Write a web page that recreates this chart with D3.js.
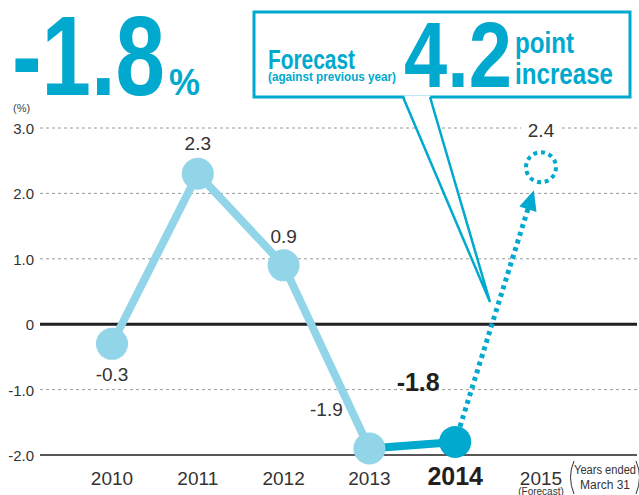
<!DOCTYPE html>
<html>
<head>
<meta charset="utf-8">
<script src="https://cdn.jsdelivr.net/npm/d3@7"></script>
<style>
  body { margin: 0; background: #fff; }
  svg text { font-family: "Liberation Sans", Arial, sans-serif; }
</style>
</head>
<body>
<svg id="chart"></svg>
<script>
// --- data ---
const years = ["2010", "2011", "2012", "2013", "2014", "2015"];
const actual = [-0.3, 2.3, 0.9, -1.9, -1.8];
const forecast = 2.4;
const yTicks = [3.0, 2.0, 1.0, 0, -1.0, -2.0];
const tickLabels = ["3.0", "2.0", "1.0", "0", "-1.0", "-2.0"];

const width = 639, height = 495;
const light = "#93d5e8", dark = "#00a9cd", ink = "#231f20";

const svg = d3.select("#chart").attr("width", width).attr("height", height);

const x = d3.scalePoint().domain(years).range([112, 541]);
const y = d3.scaleLinear().domain([-2, 3]).range([455, 128]);

// grid
const grid = svg.append("g");
yTicks.forEach((t, i) => {
  let line = grid.append("line")
    .attr("x1", 40).attr("x2", 637)
    .attr("y1", y(t)).attr("y2", y(t));
  if (t === 0) line.attr("stroke", ink).attr("stroke-width", 3);
  else if (t === -2) line.attr("stroke", ink).attr("stroke-width", 1.5);
  else line.attr("stroke", "#9a9a9a").attr("stroke-width", 1).attr("stroke-dasharray", "3,3");
  grid.append("text")
    .attr("x", 34).attr("y", y(t) + 6)
    .attr("text-anchor", "end")
    .attr("font-size", 15).attr("fill", "#333")
    .text(tickLabels[i]);
});
svg.append("text").attr("x", 13).attr("y", 112)
  .attr("font-size", 11).attr("fill", "#444").text("(%)");

// x labels
years.forEach((yr) => {
  let bold = yr === "2014";
  svg.append("text")
    .attr("x", x(yr)).attr("y", 485)
    .attr("text-anchor", "middle")
    .attr("font-size", bold ? 25 : 19)
    .attr("font-weight", bold ? "bold" : "normal")
    .attr("fill", bold ? ink : "#333")
    .text(yr);
});
svg.append("text").attr("x", x("2015")).attr("y", 495)
  .attr("text-anchor", "middle").attr("font-size", 10).attr("fill", "#333")
  .text("(Forecast)");
// (Years ended March 31)
const ye = svg.append("g").attr("fill", "#333").attr("font-size", 12);
ye.append("text").attr("x", 605).attr("y", 474).attr("text-anchor", "middle")
  .attr("textLength", 62).attr("lengthAdjust", "spacingAndGlyphs").text("Years ended");
ye.append("text").attr("x", 605).attr("y", 489).attr("text-anchor", "middle").text("March 31");
svg.append("path").attr("d", "M574,461 Q567,477 574,494").attr("fill", "none").attr("stroke", "#333");
svg.append("path").attr("d", "M636,461 Q643,477 636,494").attr("fill", "none").attr("stroke", "#333");

// lines
const pts = actual.map((v, i) => [x(years[i]), y(v)]);
const lineGen = d3.line();
svg.append("path")
  .attr("d", lineGen(pts.slice(0, 4)))
  .attr("fill", "none").attr("stroke", light).attr("stroke-width", 8)
  .attr("stroke-linejoin", "round");
svg.append("path")
  .attr("d", lineGen(pts.slice(3, 5)))
  .attr("fill", "none").attr("stroke", dark).attr("stroke-width", 8);

// forecast arrow
const p0 = pts[4], p1 = [x("2015"), y(forecast)];
const dx = p1[0] - p0[0], dy = p1[1] - p0[1], len = Math.hypot(dx, dy);
const ux = dx / len, uy = dy / len;
const tip = [p1[0] - ux * 24, p1[1] - uy * 24];
const base = [tip[0] - ux * 20, tip[1] - uy * 20];
svg.append("line")
  .attr("x1", p0[0] + ux * 16).attr("y1", p0[1] + uy * 16)
  .attr("x2", base[0] + ux * 2).attr("y2", base[1] + uy * 2)
  .attr("stroke", dark).attr("stroke-width", 5).attr("stroke-dasharray", "4,4");
svg.append("path")
  .attr("d", `M${tip[0]},${tip[1]} L${base[0] - uy * 9},${base[1] + ux * 9} L${base[0] + uy * 9},${base[1] - ux * 9}Z`)
  .attr("fill", dark);
svg.append("circle")
  .attr("cx", p1[0]).attr("cy", p1[1]).attr("r", 15)
  .attr("fill", "#fff").attr("stroke", dark).attr("stroke-width", 4)
  .attr("stroke-dasharray", "4,3.8");

// points
svg.selectAll("circle.pt").data(actual).enter().append("circle")
  .attr("class", "pt")
  .attr("cx", (d, i) => x(years[i]))
  .attr("cy", (d) => y(d))
  .attr("r", 16)
  .attr("fill", (d, i) => i === 4 ? dark : light);

// value labels
const labelPos = [[0, 37], [0, -24], [0, -22], [-43, -32], [-37, -51]];
actual.forEach((v, i) => {
  let bold = i === 4;
  svg.append("text")
    .attr("x", x(years[i]) + labelPos[i][0])
    .attr("y", y(v) + labelPos[i][1])
    .attr("text-anchor", "middle")
    .attr("font-size", bold ? 25 : 19)
    .attr("font-weight", bold ? "bold" : "normal")
    .attr("fill", bold ? ink : "#333")
    .text(v.toFixed(1));
});
svg.append("rect").attr("x", p1[0] - 20).attr("y", y(3) - 6).attr("width", 40).attr("height", 12).attr("fill", "#fff");
svg.append("text").attr("x", p1[0]).attr("y", y(forecast) - 30)
  .attr("text-anchor", "middle").attr("font-size", 19).attr("fill", "#333")
  .text(forecast.toFixed(1));

// headline
svg.append("text").attr("x", 12).attr("y", 95)
  .attr("font-family", "Roboto, sans-serif").attr("font-weight", "bold")
  .attr("font-size", 114).attr("fill", dark)
  .attr("textLength", 153).attr("lengthAdjust", "spacingAndGlyphs")
  .text("-1.8");
svg.append("text").attr("x", 169).attr("y", 95)
  .attr("font-family", "Roboto, sans-serif").attr("font-weight", "bold")
  .attr("font-size", 37).attr("fill", dark)
  .attr("textLength", 31).attr("lengthAdjust", "spacingAndGlyphs")
  .text("%");

// callout box
svg.append("rect").attr("x", 254).attr("y", 12).attr("width", 376).attr("height", 85)
  .attr("fill", "#fff").attr("stroke", dark).attr("stroke-width", 3);
svg.append("path").attr("d", "M404,95.5 L490,302 L430,95.5Z").attr("fill", "#fff");
svg.append("path").attr("d", "M403,97 L490,302 L430,97")
  .attr("fill", "none").attr("stroke", dark).attr("stroke-width", 2.5).attr("stroke-linejoin", "miter");

const cf = "Roboto, sans-serif";
svg.append("text").attr("x", 268).attr("y", 69)
  .attr("font-family", cf).attr("font-weight", "bold").attr("font-size", 27).attr("fill", dark)
  .attr("textLength", 87).attr("lengthAdjust", "spacingAndGlyphs").text("Forecast");
svg.append("text").attr("x", 268).attr("y", 81)
  .attr("font-family", cf).attr("font-weight", "bold").attr("font-size", 13).attr("fill", dark)
  .attr("textLength", 128).attr("lengthAdjust", "spacingAndGlyphs").text("(against previous year)");
svg.append("text").attr("x", 404).attr("y", 87)
  .attr("font-family", cf).attr("font-weight", "bold").attr("font-size", 93).attr("fill", dark)
  .attr("textLength", 108).attr("lengthAdjust", "spacingAndGlyphs").text("4.2");
svg.append("text").attr("x", 515).attr("y", 53)
  .attr("font-family", cf).attr("font-weight", "bold").attr("font-size", 30).attr("fill", dark)
  .attr("textLength", 59).attr("lengthAdjust", "spacingAndGlyphs").text("point");
svg.append("text").attr("x", 515).attr("y", 84)
  .attr("font-family", cf).attr("font-weight", "bold").attr("font-size", 30).attr("fill", dark)
  .attr("textLength", 98).attr("lengthAdjust", "spacingAndGlyphs").text("increase");
</script>
</body>
</html>
